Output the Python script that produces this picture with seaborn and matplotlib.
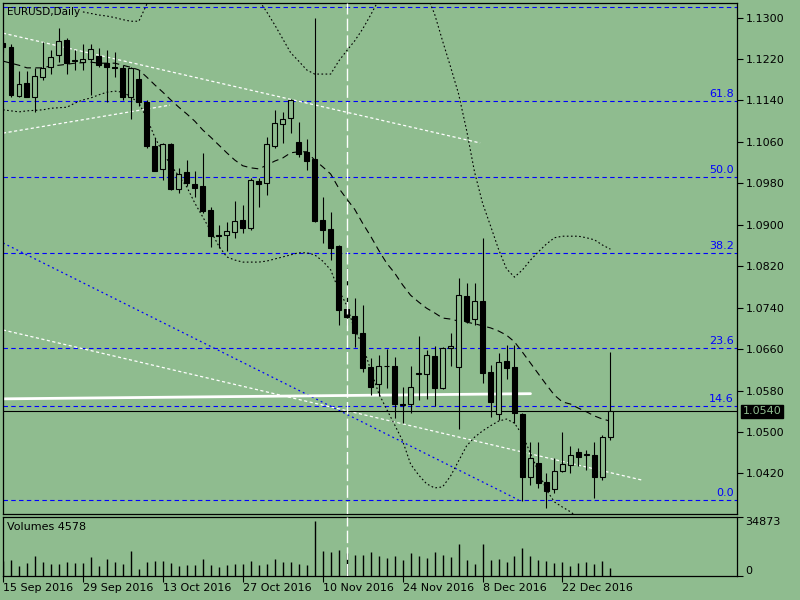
import numpy as np
import pandas as pd
import matplotlib
matplotlib.use("Agg")
import matplotlib.pyplot as plt
import matplotlib.transforms as mtransforms
import seaborn as sns

BG = "#8FBC8F"

# ---------------- data ----------------
dates = pd.bdate_range("2016-09-15", "2016-12-30")

opens = [1.1251, 1.1244, 1.1149, 1.1173, 1.1146, 1.1186, 1.1204, 1.1228, 1.1257, 1.1216,
         1.1215, 1.1220, 1.1226, 1.1212, 1.1205, 1.1202, 1.1147, 1.1181, 1.1138, 1.1053,
         1.1007, 1.1056, 1.0969, 1.1001, 1.0979, 1.0975, 1.0929, 1.0880, 1.0880, 1.0887,
         1.0909, 1.0893, 1.0985, 1.0980, 1.1052, 1.1094, 1.1106, 1.1059, 1.1040, 1.1027,
         1.0909, 1.0892, 1.0859, 1.0737, 1.0724, 1.0691, 1.0625, 1.0593, 1.0627, 1.0627,
         1.0554, 1.0554, 1.0612, 1.0612, 1.0647, 1.0585, 1.0662, 1.0625, 1.0763, 1.0718,
         1.0753, 1.0616, 1.0535, 1.0637, 1.0625, 1.0535, 1.0413, 1.0440, 1.0403, 1.0390,
         1.0425, 1.0436, 1.0461, 1.0456, 1.0456, 1.0413, 1.0490]
highs = [1.1261, 1.1250, 1.1196, 1.1196, 1.1202, 1.1253, 1.1237, 1.1279, 1.1260, 1.1237,
         1.1250, 1.1250, 1.1241, 1.1237, 1.1233, 1.1209, 1.1205, 1.1199, 1.1141, 1.1067,
         1.1057, 1.1057, 1.1009, 1.1025, 1.1004, 1.1039, 1.0935, 1.0900, 1.0906, 1.0946,
         1.0938, 1.0991, 1.0990, 1.1070, 1.1122, 1.1118, 1.1142, 1.1098, 1.1066, 1.1299,
         1.0954, 1.0925, 1.0861, 1.0817, 1.0759, 1.0745, 1.0643, 1.0649, 1.0660, 1.0645,
         1.0587, 1.0627, 1.0685, 1.0658, 1.0666, 1.0664, 1.0691, 1.0797, 1.0788, 1.0788,
         1.0875, 1.0629, 1.0653, 1.0668, 1.0668, 1.0537, 1.0481, 1.0481, 1.0421, 1.0450,
         1.0500, 1.0473, 1.0469, 1.0465, 1.0481, 1.0494, 1.0654]
lows = [1.1234, 1.1146, 1.1147, 1.1146, 1.1118, 1.1180, 1.1191, 1.1215, 1.1191, 1.1199,
        1.1198, 1.1151, 1.1205, 1.1138, 1.1186, 1.1141, 1.1104, 1.1129, 1.1048, 1.1003,
        1.0987, 1.0967, 1.0961, 1.0974, 1.0954, 1.0923, 1.0858, 1.0855, 1.0850, 1.0874,
        1.0884, 1.0890, 1.0935, 1.0958, 1.1048, 1.1057, 1.1077, 1.1031, 1.1006, 1.0906,
        1.0864, 1.0832, 1.0707, 1.0707, 1.0664, 1.0616, 1.0571, 1.0570, 1.0585, 1.0527,
        1.0517, 1.0537, 1.0562, 1.0564, 1.0550, 1.0583, 1.0627, 1.0506, 1.0710, 1.0707,
        1.0595, 1.0529, 1.0523, 1.0602, 1.0517, 1.0367, 1.0398, 1.0392, 1.0353, 1.0382,
        1.0423, 1.0421, 1.0434, 1.0427, 1.0373, 1.0407, 1.0485]
closes = [1.1243, 1.1151, 1.1172, 1.1147, 1.1187, 1.1202, 1.1223, 1.1254, 1.1213, 1.1218,
          1.1221, 1.1239, 1.1209, 1.1204, 1.1203, 1.1147, 1.1202, 1.1138, 1.1053, 1.1004,
          1.1056, 1.0970, 1.0998, 1.0980, 1.0972, 1.0927, 1.0878, 1.0879, 1.0888, 1.0907,
          1.0894, 1.0987, 1.0978, 1.1056, 1.1096, 1.1104, 1.1140, 1.1037, 1.1024, 1.0908,
          1.0890, 1.0855, 1.0736, 1.0722, 1.0691, 1.0624, 1.0587, 1.0627, 1.0628, 1.0554,
          1.0553, 1.0587, 1.0613, 1.0649, 1.0585, 1.0662, 1.0666, 1.0764, 1.0714, 1.0753,
          1.0614, 1.0558, 1.0635, 1.0624, 1.0537, 1.0413, 1.0450, 1.0402, 1.0386, 1.0425,
          1.0438, 1.0456, 1.0452, 1.0457, 1.0413, 1.0490, 1.0540]
volumes = [9000, 9460, 5910, 7680, 11820, 8270, 7090, 7090, 8270, 7490,
           7680, 11230, 5910, 10050, 8270, 7090, 14780, 4140, 8470, 8870,
           8870, 7680, 5910, 6500, 6500, 10050, 6500, 5320, 6500, 7090,
           7090, 8870, 6500, 7090, 10050, 8270, 8270, 7090, 6500, 32500,
           14780, 14180, 15370, 13590, 12410, 12410, 14180, 11820, 10640, 11820,
           9460, 13590, 11820, 10640, 14180, 12410, 11230, 18910, 9460, 7090,
           18910, 9460, 10050, 8270, 11820, 16550, 11820, 9460, 8870, 7680,
           8270, 5910, 7680, 8270, 7090, 8870, 4578]

# envelope-style band lines (bar index, price)
upper_idx = [10, 11, 12, 13, 14, 15, 16, 17, 18, 19, 22, 25, 29, 31, 32, 33, 34, 35, 36, 37,
             38, 39, 40, 41, 42, 43, 44, 45, 46, 47, 48, 50, 52, 53, 54, 55, 56, 57, 58, 59,
             60, 61, 62, 63, 64, 65, 66, 67, 68, 69, 70, 71, 72, 73, 74, 75, 76]
upper_val = [1.1311, 1.1308, 1.1305, 1.1303, 1.1300, 1.1296, 1.1293, 1.1293, 1.1326, 1.1363,
             1.1392, 1.1392, 1.1369, 1.1344, 1.1334, 1.1311, 1.1286, 1.1259, 1.1232, 1.1216,
             1.1199, 1.1191, 1.1191, 1.1191, 1.1216, 1.1236, 1.1255, 1.1278, 1.1305, 1.1334,
             1.1363, 1.1382, 1.1363, 1.1344, 1.1307, 1.1255, 1.1205, 1.1153, 1.1083, 1.1002,
             1.0942, 1.0898, 1.0853, 1.0815, 1.0799, 1.0813, 1.0832, 1.0848, 1.0863, 1.0875,
             1.0878, 1.0878, 1.0878, 1.0875, 1.0871, 1.0861, 1.0853]
middle_val = [1.1216, 1.1212, 1.1208, 1.1203, 1.1203, 1.1203, 1.1207, 1.1208, 1.1210, 1.1212,
              1.1213, 1.1214, 1.1212, 1.1212, 1.1212, 1.1208, 1.1204, 1.1199, 1.1185, 1.1170,
              1.1156, 1.1141, 1.1127, 1.1114, 1.1100, 1.1083, 1.1069, 1.1054, 1.1039, 1.1025,
              1.1014, 1.1010, 1.1008, 1.1015, 1.1023, 1.1029, 1.1039, 1.1041, 1.1041, 1.1025,
              1.1012, 1.0998, 1.0971, 1.0950, 1.0930, 1.0903, 1.0878, 1.0851, 1.0826, 1.0807,
              1.0784, 1.0764, 1.0751, 1.0739, 1.0730, 1.0720, 1.0718, 1.0714, 1.0712, 1.0709,
              1.0705, 1.0701, 1.0695, 1.0687, 1.0674, 1.0654, 1.0633, 1.0612, 1.0591, 1.0571,
              1.0558, 1.0554, 1.0546, 1.0539, 1.0531, 1.0525, 1.0521]
lower_val = [1.1122, 1.1120, 1.1118, 1.1120, 1.1121, 1.1122, 1.1125, 1.1126, 1.1127, 1.1135,
             1.1141, 1.1145, 1.1151, 1.1156, 1.1158, 1.1156, 1.1147, 1.1135, 1.1106, 1.1069,
             1.1039, 1.1015, 1.0994, 1.0973, 1.0942, 1.0915, 1.0888, 1.0859, 1.0838, 1.0832,
             1.0828, 1.0828, 1.0828, 1.0830, 1.0834, 1.0838, 1.0842, 1.0846, 1.0846, 1.0842,
             1.0830, 1.0813, 1.0774, 1.0745, 1.0697, 1.0668, 1.0620, 1.0575, 1.0544, 1.0514,
             1.0483, 1.0438, 1.0417, 1.0400, 1.0392, 1.0394, 1.0415, 1.0444, 1.0473, 1.0490,
             1.0502, 1.0512, 1.0521, 1.0525, 1.0517, 1.0494, 1.0459, 1.0423, 1.0388, 1.0365,
             1.0355, 1.0346, 1.0334, 1.0321, 1.0307, 1.0295, 1.0282]

# Fibonacci retracement
fib_low = 1.0369
fib_high = 1.1615
fib_levels = [0.0, 14.6, 23.6, 38.2, 50.0, 61.8, 76.4]

# drawn trend lines: (bar index list, price list)
trend_white_upper = ([0.0, 59.7], [1.1270, 1.1058])
trend_white_short = ([0.0, 20.9], [1.1077, 1.1131])
trend_white_long = ([0.0, 80.0], [1.0697, 1.0407])
trend_blue = ([0.0, 64.5], [1.0865, 1.0369])
white_level = ([0.0, 66.0], [1.0564, 1.0574])
vline_idx = 43
last_price = 1.0540

price_ticks = [1.0420, 1.0500, 1.0580, 1.0660, 1.0740, 1.0820,
               1.0900, 1.0980, 1.1060, 1.1140, 1.1220, 1.1300]
vol_ticks = [0, 34873]
label_every = 10

# ---------------- styling ----------------
sns.set_theme(style="ticks", rc={
    "axes.facecolor": BG, "figure.facecolor": BG, "savefig.facecolor": BG,
    "axes.edgecolor": "black", "axes.linewidth": 0.9,
    "xtick.color": "black", "ytick.color": "black", "text.color": "black",
    "axes.grid": False,
})
plt.rcParams["font.family"] = ["DejaVu Sans"]

fig = plt.figure(figsize=(8, 6), dpi=100)
ax = fig.add_axes([3 / 800, 86 / 600, 734 / 800, 511 / 600])
axv = fig.add_axes([3 / 800, 24 / 600, 734 / 800, 59 / 600])

n = len(opens)
x = np.arange(n)
o = np.array(opens); h = np.array(highs); l = np.array(lows); c = np.array(closes)

XMAX = 91.84
YLIM = (1.03417, 1.13282)

# Fibonacci levels
blend = mtransforms.blended_transform_factory(ax.transAxes, ax.transData)
for lvl in fib_levels:
    p = fib_low + (fib_high - fib_low) * lvl / 100.0
    ax.axhline(p, color="#0000FF", lw=0.8, ls=(0, (4, 3)), zorder=1)
    if p < YLIM[1] - 0.003:
        ax.annotate(f"{lvl:.1f}", xy=(1, p), xycoords=blend, xytext=(-3, 2),
                    textcoords="offset pixels", ha="right", va="bottom",
                    color="#0000FF", fontsize=8)

# trend lines
ax.plot(*trend_white_upper, color="white", lw=0.9, ls=(0, (2.5, 2)), zorder=2)
ax.plot(*trend_white_short, color="white", lw=0.9, ls=(0, (2.5, 2)), zorder=2)
ax.plot(*trend_white_long, color="white", lw=0.9, ls=(0, (2.5, 2)), zorder=2)
ax.plot(*trend_blue, color="#0000FF", lw=0.9, ls=(0, (1.5, 2.5)), zorder=2)
ax.plot(*white_level, color="white", lw=2.0, zorder=2)

# bands
sns.lineplot(x=upper_idx, y=upper_val, ax=ax, color="black", lw=0.8,
             linestyle=(0, (1.5, 2.2)), zorder=2)
sns.lineplot(x=list(x), y=middle_val, ax=ax, color="black", lw=0.8,
             linestyle=(0, (6, 4)), zorder=2)
sns.lineplot(x=list(x), y=lower_val, ax=ax, color="black", lw=0.8,
             linestyle=(0, (1.5, 2.2)), zorder=2)

# current price line
ax.axhline(last_price, color="black", lw=0.8, zorder=2)

# candles
ax.vlines(x, l, h, color="black", lw=0.8, zorder=3)
bottoms = np.minimum(o, c)
heights = np.maximum(np.abs(c - o), 0.00003)
colors = [BG if cc >= oo else "black" for oo, cc in zip(o, c)]
ax.bar(x, heights, bottom=bottoms, width=0.62, color=colors,
       edgecolor="black", linewidth=0.8, zorder=4)

ax.axvline(vline_idx, color="white", lw=1.0, ls=(0, (9, 3)), zorder=5)

ax.set_xlim(0, XMAX)
ax.set_ylim(*YLIM)
ax.set_xticks([])
ax.set_xlabel("")
ax.set_ylabel("")
ax.yaxis.tick_right()
ax.set_yticks(price_ticks)
ax.set_yticklabels([f"{v:.4f}" for v in price_ticks])
ax.tick_params(axis="y", direction="out", length=4, width=0.8, pad=2, labelsize=8)

ax.text(0.006, 0.982, "EURUSD,Daily", transform=ax.transAxes, ha="left",
        va="center", fontsize=7.5)

ax.annotate(f"{last_price:.4f}", xy=(1, last_price), xycoords=blend, xytext=(6, 0),
            textcoords="offset pixels", ha="left", va="center", color=BG,
            fontsize=8, annotation_clip=False,
            bbox=dict(boxstyle="square,pad=0.15", fc="black", ec="black"))

# volumes
axv.vlines(x, 0, volumes, color="black", lw=1.0, zorder=3)
axv.axvline(vline_idx, color="white", lw=1.0, ls=(0, (9, 3)), zorder=5)
axv.set_xlim(0, XMAX)
axv.set_ylim(0, vol_ticks[1])
axv.yaxis.tick_right()
axv.set_yticks(vol_ticks)
axv.set_yticklabels([str(v) for v in vol_ticks])
labs = axv.get_yticklabels()
labs[0].set_va("bottom")
labs[1].set_va("top")
axv.tick_params(axis="y", direction="out", length=4, width=0.8, pad=2, labelsize=8)

tick_pos = list(x[::label_every][:8])
axv.set_xticks(tick_pos)
axv.set_xticklabels([f"{dates[i].day} {dates[i].strftime('%b')} {dates[i].year}"
                     for i in tick_pos], ha="left")
axv.tick_params(axis="x", direction="out", length=4, width=0.8, pad=1, labelsize=8)
axv.text(0.0055, 0.83, f"Volumes {volumes[-1]}", transform=axv.transAxes,
         ha="left", va="center", fontsize=8)

fig.savefig("out.png", dpi=100, facecolor=BG)
